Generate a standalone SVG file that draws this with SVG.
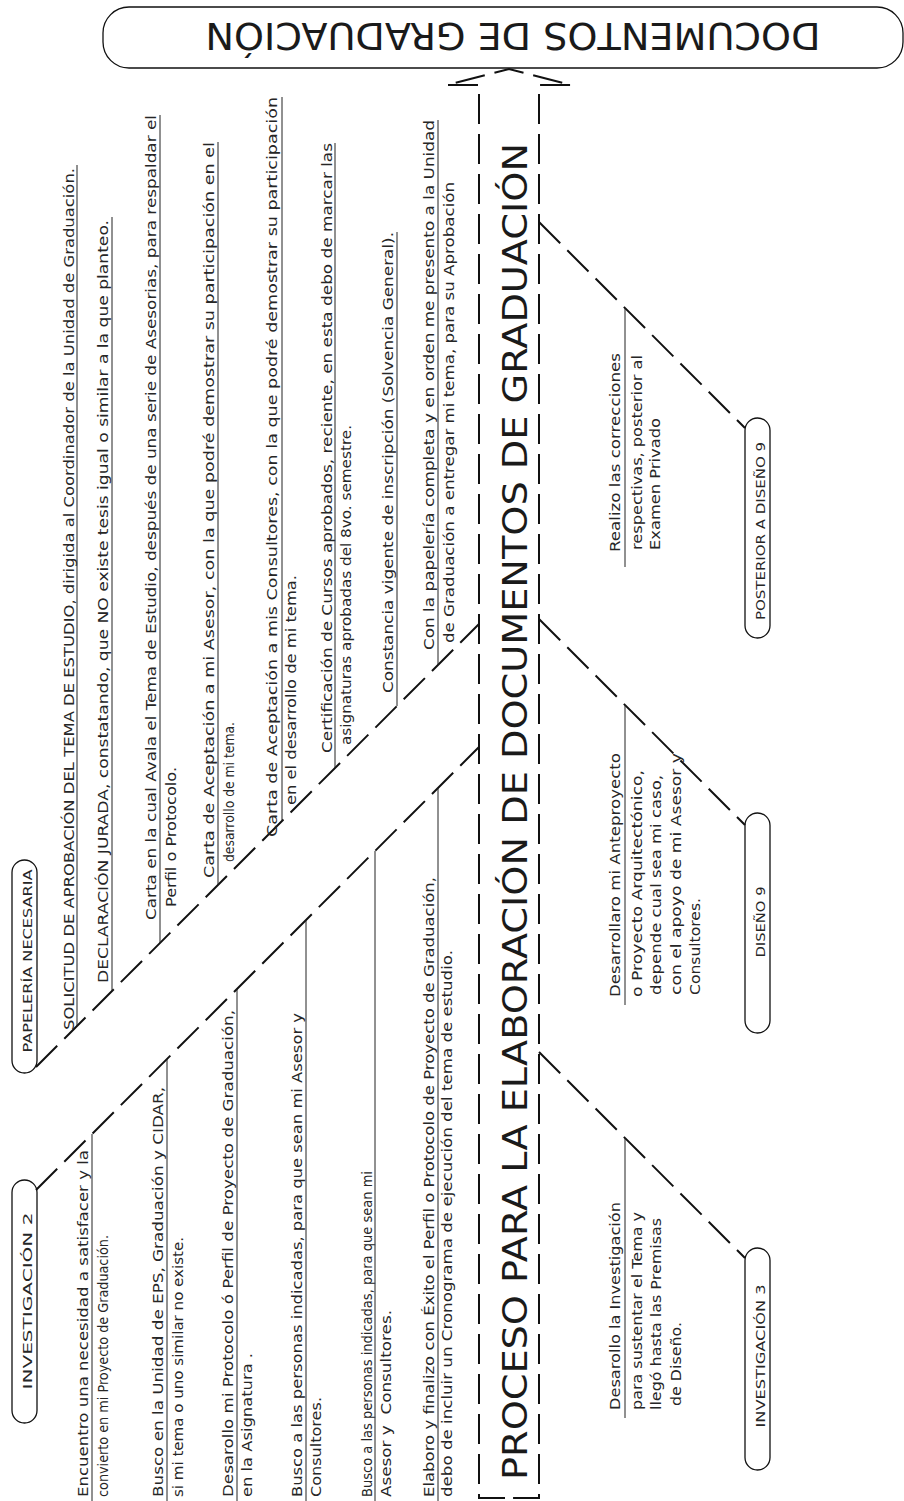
<svg xmlns="http://www.w3.org/2000/svg" width="904" height="1501" viewBox="0 0 904 1501">
<style>
.t{font-family:"DejaVu Sans","Liberation Sans",sans-serif;font-size:13.5px;fill:#262626}
.p{font-size:13px}
.big{font-size:33px;fill:#1a1a1a}
.ttl{font-family:"DejaVu Sans","Liberation Sans",sans-serif;font-size:38px;fill:#1a1a1a}
.dash{fill:none;stroke:#111;stroke-width:2;stroke-dasharray:30 10}
.ul{fill:none;stroke:#222;stroke-width:1}
.pill{fill:none;stroke:#111;stroke-width:1.3}
</style>
<rect width="904" height="1501" fill="#fff"/>

<g id="title-box">
<rect class="pill" x="103" y="7" width="800" height="61" rx="26"/>
<text class="ttl" transform="translate(513,23) rotate(180)" text-anchor="middle" textLength="615" lengthAdjust="spacingAndGlyphs">DOCUMENTOS DE GRADUACIÓN</text>
</g>

<g id="connectors">
<path class="dash" d="M505,1498 H479 V85 H447 L509,69 L571,85 H539 V1498 H513"/>
<path class="dash" d="M36,1190 L479,747"/>
<path class="dash" d="M36,1067 L479,624"/>
<path class="dash" d="M539,222 L745,428"/>
<path class="dash" d="M539,619 L745,825"/>
<path class="dash" d="M539,1052 L745,1258"/>
<path class="ul" d="M92,1501 V1134 M167,1501 V1059 M237,1501 V989 M306,1501 V920 M375,1501 V851 M438,1501 V788"/>
<path class="ul" d="M77,1026 V165 M112,991 V217 M160,943 V115 M218,885 V142 M282,821 V97 M335,768 V143 M397,706 V232 M438,665 V120"/>
<path class="ul" d="M625,567 V308 M625,1005 V705 M625,1418 V1138"/>
</g>

<g id="pill-investigacion2"><rect class="pill" x="12" y="1180" width="25" height="243" rx="12.5"/></g>
<g id="pill-papeleria"><rect class="pill" x="12" y="860" width="25" height="213" rx="12.5"/></g>
<g id="pill-posterior"><rect class="pill" x="745" y="418" width="25" height="220" rx="12.5"/></g>
<g id="pill-diseno9"><rect class="pill" x="745" y="813" width="25" height="220" rx="12.5"/></g>
<g id="pill-investigacion3"><rect class="pill" x="745" y="1248" width="25" height="222" rx="12.5"/></g>

<g transform="matrix(0,-1,1,0,0,1501)" class="t">
<g id="main-title"><text class="big" x="21" y="527" textLength="1337" lengthAdjust="spacingAndGlyphs">PROCESO PARA LA ELABORACIÓN DE DOCUMENTOS DE GRADUACIÓN</text></g>

<g id="pill-labels" class="p" text-anchor="middle">
<text x="200" y="32" textLength="177" lengthAdjust="spacingAndGlyphs">INVESTIGACIÓN 2</text>
<text x="540" y="32" textLength="183" lengthAdjust="spacingAndGlyphs">PAPELERÍA NECESARIA</text>
<text x="970" y="765" textLength="178" lengthAdjust="spacingAndGlyphs">POSTERIOR A DISEÑO 9</text>
<text x="579" y="765" textLength="71" lengthAdjust="spacingAndGlyphs">DISEÑO 9</text>
<text x="145" y="765" textLength="143" lengthAdjust="spacingAndGlyphs">INVESTIGACIÓN 3</text>
</g>

<g id="steps-investigacion2">
<text x="4" y="88" textLength="347" lengthAdjust="spacingAndGlyphs">Encuentro una necesidad a satisfacer y la</text>
<text x="4" y="108" textLength="262" lengthAdjust="spacingAndGlyphs">convierto en mi Proyecto de Graduación.</text>
<text x="4" y="163" textLength="410" lengthAdjust="spacingAndGlyphs">Busco en la Unidad de EPS, Graduación y CIDAR,</text>
<text x="4" y="183" textLength="260" lengthAdjust="spacingAndGlyphs">si mi tema o uno similar no existe.</text>
<text x="4" y="233" textLength="487" lengthAdjust="spacingAndGlyphs">Desarollo mi Protocolo ó Perfil de Proyecto de Graduación,</text>
<text x="4" y="252" textLength="144" lengthAdjust="spacingAndGlyphs">en la Asignatura .</text>
<text x="4" y="302" textLength="484" lengthAdjust="spacingAndGlyphs">Busco a las personas indicadas, para que sean mi Asesor y</text>
<text x="4" y="321" textLength="100" lengthAdjust="spacingAndGlyphs">Consultores.</text>
<text x="4" y="372" textLength="326" lengthAdjust="spacingAndGlyphs">Busco a las personas indicadas, para que sean mi</text>
<text x="4" y="391" textLength="187" lengthAdjust="spacingAndGlyphs" xml:space="preserve">Asesor y  Consultores.</text>
<text x="4" y="434" textLength="620" lengthAdjust="spacingAndGlyphs">Elaboro y finalizo con Éxito el Perfil o Protocolo de Proyecto de Graduación,</text>
<text x="4" y="452" textLength="547" lengthAdjust="spacingAndGlyphs">debo de incluir un Cronograma de ejecución del tema de estudio.</text>
</g>

<g id="papeleria-items">
<text x="471" y="74" textLength="862" lengthAdjust="spacingAndGlyphs">SOLICITUD DE APROBACIÓN DEL TEMA DE ESTUDIO, dirigida al Coordinador de la Unidad de Graduación.</text>
<text x="518" y="108" textLength="763" lengthAdjust="spacingAndGlyphs">DECLARACIÓN JURADA, constatando, que NO existe tesis igual o similar a la que planteo.</text>
<text x="581" y="156" textLength="805" lengthAdjust="spacingAndGlyphs">Carta en la cual Avala el Tema de Estudio, después de una serie de Asesorias, para respaldar el</text>
<text x="594" y="176" textLength="140" lengthAdjust="spacingAndGlyphs">Perfil o Protocolo.</text>
<text x="623" y="214" textLength="736" lengthAdjust="spacingAndGlyphs">Carta de Aceptación a mi Asesor, con la que podré demostrar su participación en el</text>
<text x="639" y="234" textLength="140" lengthAdjust="spacingAndGlyphs">desarrollo de mi tema.</text>
<text x="664" y="277" textLength="740" lengthAdjust="spacingAndGlyphs">Carta de Aceptación a mis Consultores, con la que podré demostrar su participación</text>
<text x="696" y="296" textLength="230" lengthAdjust="spacingAndGlyphs">en el desarrollo de mi tema.</text>
<text x="748" y="332" textLength="610" lengthAdjust="spacingAndGlyphs">Certificación de Cursos aprobados, reciente, en esta debo de marcar las</text>
<text x="756" y="351" textLength="320" lengthAdjust="spacingAndGlyphs">asignaturas aprobadas del 8vo. semestre.</text>
<text x="808" y="393" textLength="461" lengthAdjust="spacingAndGlyphs">Constancia vigente de inscripción (Solvencia General).</text>
<text x="851" y="434" textLength="530" lengthAdjust="spacingAndGlyphs">Con la papelería completa y en orden me presento a la Unidad</text>
<text x="858" y="454" textLength="461" lengthAdjust="spacingAndGlyphs">de Graduación a entregar mi tema, para su Aprobación</text>
</g>

<g id="step-posterior">
<text x="949" y="620" textLength="199" lengthAdjust="spacingAndGlyphs">Realizo las correcciones</text>
<text x="951" y="642" textLength="195" lengthAdjust="spacingAndGlyphs">respectivas, posterior al</text>
<text x="951" y="660" textLength="132" lengthAdjust="spacingAndGlyphs">Examen Privado</text>
</g>

<g id="step-diseno9">
<text x="504" y="620" textLength="244" lengthAdjust="spacingAndGlyphs">Desarrollaro mi Anteproyecto</text>
<text x="504" y="642" textLength="227" lengthAdjust="spacingAndGlyphs">o Proyecto Arquitectónico,</text>
<text x="506" y="661" textLength="220" lengthAdjust="spacingAndGlyphs">depende cual sea mi caso,</text>
<text x="506" y="681" textLength="242" lengthAdjust="spacingAndGlyphs">con el apoyo de mi Asesor y</text>
<text x="506" y="700" textLength="97" lengthAdjust="spacingAndGlyphs">Consultores.</text>
</g>

<g id="step-investigacion3">
<text x="91" y="620" textLength="208" lengthAdjust="spacingAndGlyphs">Desarollo la Investigación</text>
<text x="91" y="642" textLength="198" lengthAdjust="spacingAndGlyphs">para sustentar el Tema y</text>
<text x="91" y="661" textLength="192" lengthAdjust="spacingAndGlyphs">llegó hasta las Premisas</text>
<text x="95" y="681" textLength="84" lengthAdjust="spacingAndGlyphs">de Diseño.</text>
</g>
</g>
</svg>
